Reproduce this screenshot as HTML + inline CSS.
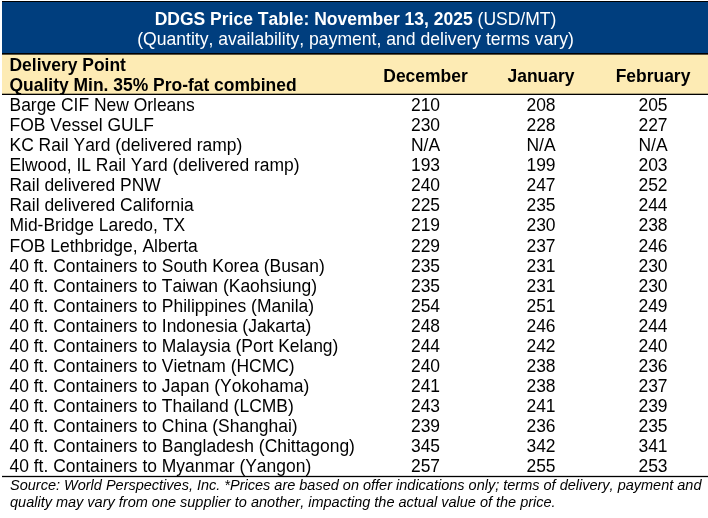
<!DOCTYPE html>
<html><head><meta charset="utf-8">
<style>
html,body{margin:0;padding:0;background:#fff;}
body{font-kerning:none;width:708px;height:518px;overflow:hidden;position:relative;font-family:"Liberation Sans",sans-serif;color:#000;}
#title{position:absolute;left:2px;top:1px;width:706px;height:51px;background:#003e7e;border-top:1px solid #000;border-bottom:1px solid #000;color:#fff;text-align:center;font-size:17.5px;line-height:20px;white-space:nowrap;}
#title .l1{position:absolute;left:1px;right:0;top:7px;}
#title .l2{position:absolute;left:1px;right:0;top:27px;font-size:17.58px;}
#head{position:absolute;left:2px;top:54px;width:706px;height:40px;background:#fdebb4;box-shadow:inset 0 1px 0 rgba(0,0,0,.65), inset 0 -1px 0 rgba(0,0,0,.3);border-bottom:1px solid #000;font-weight:bold;font-size:17.47px;white-space:nowrap;}
#head .dp{position:absolute;left:7.5px;top:0.5px;line-height:20.3px;}
#head .m{position:absolute;top:11.8px;width:120px;text-align:center;line-height:20px;}
#rows{position:absolute;left:2px;top:95px;width:706px;height:381px;border-bottom:1px solid #000;box-shadow:0 1px 0 rgba(0,0,0,.15), inset 0 -1px 0 rgba(0,0,0,.15);font-size:17.47px;}
.r,#head div,#title div,#foot{filter:blur(0.3px);}
.r{position:absolute;left:0;width:706px;height:20px;line-height:20px;white-space:nowrap;}
.r span{position:absolute;top:0;}
.r .n{left:7.5px;}
.r .a,.r .b,.r .c{width:120px;text-align:center;}
.a{left:363.5px}.b{left:479px}.c{left:591px}
#foot{position:absolute;left:10px;top:476.5px;width:698px;font-size:14.5px;font-style:italic;line-height:17px;white-space:nowrap;}
</style></head><body>
<div id="title"><div class="l1"><b>DDGS Price Table: November 13, 2025</b> (USD/MT)</div><div class="l2">(Quantity, availability, payment, and delivery terms vary)</div></div>
<div id="head"><div class="dp">Delivery Point<br>Quality Min. 35% Pro-fat combined</div><div class="m a">December</div><div class="m b">January</div><div class="m c">February</div></div>
<div id="rows">
<div class="r" style="top:0.00px"><span class="n">Barge CIF New Orleans</span><span class="a">210</span><span class="b">208</span><span class="c">205</span></div>
<div class="r" style="top:20.08px"><span class="n">FOB Vessel GULF</span><span class="a">230</span><span class="b">228</span><span class="c">227</span></div>
<div class="r" style="top:40.16px"><span class="n">KC Rail Yard (delivered ramp)</span><span class="a">N/A</span><span class="b">N/A</span><span class="c">N/A</span></div>
<div class="r" style="top:60.24px"><span class="n">Elwood, IL Rail Yard (delivered ramp)</span><span class="a">193</span><span class="b">199</span><span class="c">203</span></div>
<div class="r" style="top:80.32px"><span class="n">Rail delivered PNW</span><span class="a">240</span><span class="b">247</span><span class="c">252</span></div>
<div class="r" style="top:100.40px"><span class="n">Rail delivered California</span><span class="a">225</span><span class="b">235</span><span class="c">244</span></div>
<div class="r" style="top:120.48px"><span class="n">Mid-Bridge Laredo, TX</span><span class="a">219</span><span class="b">230</span><span class="c">238</span></div>
<div class="r" style="top:140.56px"><span class="n">FOB Lethbridge, Alberta</span><span class="a">229</span><span class="b">237</span><span class="c">246</span></div>
<div class="r" style="top:160.64px"><span class="n">40 ft. Containers to South Korea (Busan)</span><span class="a">235</span><span class="b">231</span><span class="c">230</span></div>
<div class="r" style="top:180.72px"><span class="n">40 ft. Containers to Taiwan (Kaohsiung)</span><span class="a">235</span><span class="b">231</span><span class="c">230</span></div>
<div class="r" style="top:200.80px"><span class="n">40 ft. Containers to Philippines (Manila)</span><span class="a">254</span><span class="b">251</span><span class="c">249</span></div>
<div class="r" style="top:220.88px"><span class="n">40 ft. Containers to Indonesia (Jakarta)</span><span class="a">248</span><span class="b">246</span><span class="c">244</span></div>
<div class="r" style="top:240.96px"><span class="n">40 ft. Containers to Malaysia (Port Kelang)</span><span class="a">244</span><span class="b">242</span><span class="c">240</span></div>
<div class="r" style="top:261.04px"><span class="n">40 ft. Containers to Vietnam (HCMC)</span><span class="a">240</span><span class="b">238</span><span class="c">236</span></div>
<div class="r" style="top:281.12px"><span class="n">40 ft. Containers to Japan (Yokohama)</span><span class="a">241</span><span class="b">238</span><span class="c">237</span></div>
<div class="r" style="top:301.20px"><span class="n">40 ft. Containers to Thailand (LCMB)</span><span class="a">243</span><span class="b">241</span><span class="c">239</span></div>
<div class="r" style="top:321.28px"><span class="n">40 ft. Containers to China (Shanghai)</span><span class="a">239</span><span class="b">236</span><span class="c">235</span></div>
<div class="r" style="top:341.36px"><span class="n">40 ft. Containers to Bangladesh (Chittagong)</span><span class="a">345</span><span class="b">342</span><span class="c">341</span></div>
<div class="r" style="top:361.44px"><span class="n">40 ft. Containers to Myanmar (Yangon)</span><span class="a">257</span><span class="b">255</span><span class="c">253</span></div>
</div>
<div id="foot">Source: World Perspectives, Inc. *Prices are based on offer indications only; terms of delivery, payment and<br>quality may vary from one supplier to another, impacting the actual value of the price.</div>
</body></html>
